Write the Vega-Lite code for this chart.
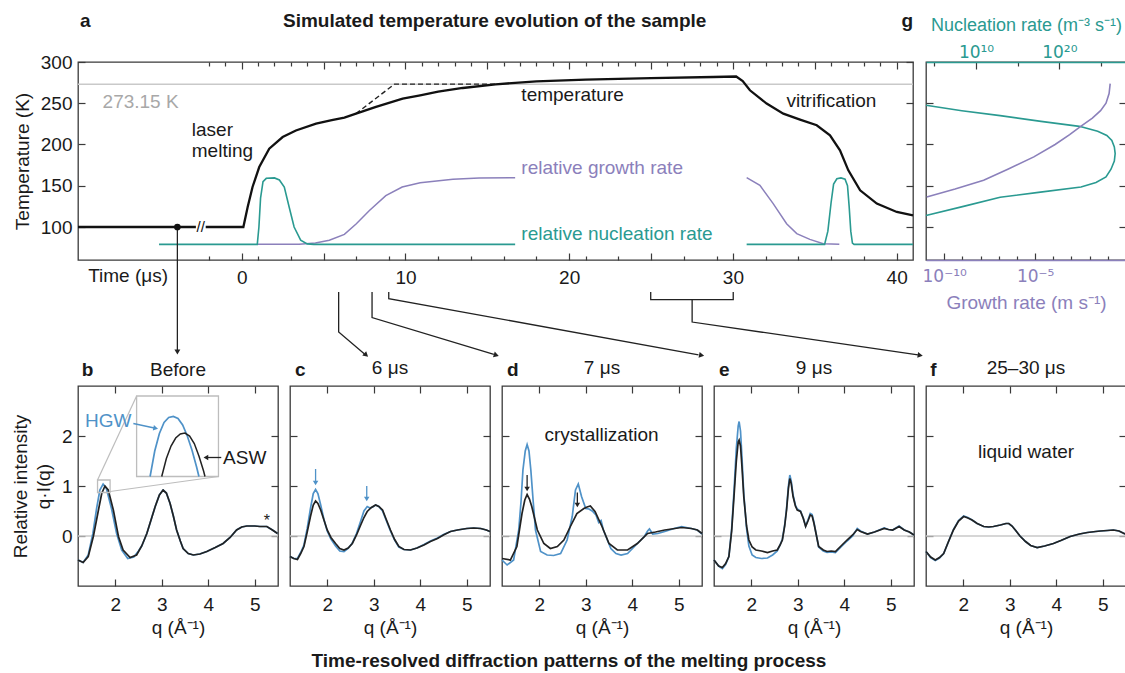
{
  "$schema": "https://vega.github.io/schema/vega-lite/v6.json",
  "padding": {"left": 10, "top": 11, "right": 0, "bottom": 0},
  "config": {
    "font": "Liberation Sans",
    "view": {"stroke": "#3a3a3a", "strokeWidth": 1.3},
    "axis": {"grid": false, "domain": false, "labelFontSize": 19, "titleFontSize": 19, "titleFontWeight": "normal", "labelColor": "#1a1a1a", "titleColor": "#1a1a1a", "tickColor": "#3a3a3a", "tickWidth": 1.2, "labelFont": "Liberation Sans", "titleFont": "Liberation Sans", "labelFlush": false, "labelOverlap": false, "labelBound": false, "titleLineHeight": 23},
    "text": {"fontSize": 19, "font": "Liberation Sans", "color": "#1a1a1a"}
  },
  "datasets": {
    "temp": [
      {"seg": "pre", "t": -10, "K": 100}, {"seg": "pre", "t": -2.8, "K": 100},
      {"seg": "main", "t": -2.2, "K": 100}, {"seg": "main", "t": 0.1, "K": 100}, {"seg": "main", "t": 0.36, "K": 124}, {"seg": "main", "t": 0.66, "K": 148.5}, {"seg": "main", "t": 1.07, "K": 172.7}, {"seg": "main", "t": 1.68, "K": 195}, {"seg": "main", "t": 2.5, "K": 209}, {"seg": "main", "t": 3.31, "K": 217}, {"seg": "main", "t": 4.54, "K": 225.3}, {"seg": "main", "t": 5.5, "K": 229.5}, {"seg": "main", "t": 6.27, "K": 232.6}, {"seg": "main", "t": 6.98, "K": 237.4}, {"seg": "main", "t": 8.2, "K": 245.5}, {"seg": "main", "t": 9.83, "K": 255.6}, {"seg": "main", "t": 10.9, "K": 259.5}, {"seg": "main", "t": 12, "K": 264}, {"seg": "main", "t": 13.5, "K": 268.5}, {"seg": "main", "t": 15.5, "K": 273}, {"seg": "main", "t": 18, "K": 276.5}, {"seg": "main", "t": 21, "K": 278.6}, {"seg": "main", "t": 25, "K": 280.5}, {"seg": "main", "t": 28.8, "K": 281.8}, {"seg": "main", "t": 30.2, "K": 282.4}, {"seg": "main", "t": 30.6, "K": 277}, {"seg": "main", "t": 31.04, "K": 265.7}, {"seg": "main", "t": 32.06, "K": 249.6}, {"seg": "main", "t": 33.08, "K": 237.4}, {"seg": "main", "t": 34.1, "K": 230.2}, {"seg": "main", "t": 35.12, "K": 223.3}, {"seg": "main", "t": 35.93, "K": 211.2}, {"seg": "main", "t": 36.54, "K": 193}, {"seg": "main", "t": 37.05, "K": 168.7}, {"seg": "main", "t": 37.77, "K": 144.5}, {"seg": "main", "t": 38.79, "K": 128.4}, {"seg": "main", "t": 40.01, "K": 118.2}, {"seg": "main", "t": 41, "K": 114.2}
    ],
    "tdash": [{"t": 6.98, "K": 237.4}, {"t": 9.33, "K": 273.15}, {"t": 15.5, "K": 273.15}],
    "nuc": [
      {"seg": 1, "t": -5.05, "K": 79}, {"seg": 1, "t": 0.95, "K": 79}, {"seg": 1, "t": 1.05, "K": 100}, {"seg": 1, "t": 1.15, "K": 135}, {"seg": 1, "t": 1.3, "K": 155}, {"seg": 1, "t": 1.5, "K": 159}, {"seg": 1, "t": 2.0, "K": 159.5}, {"seg": 1, "t": 2.3, "K": 157}, {"seg": 1, "t": 2.6, "K": 148.5}, {"seg": 1, "t": 2.9, "K": 124}, {"seg": 1, "t": 3.2, "K": 100}, {"seg": 1, "t": 3.6, "K": 84}, {"seg": 1, "t": 4.0, "K": 79.5}, {"seg": 1, "t": 4.4, "K": 79}, {"seg": 1, "t": 16.7, "K": 79},
      {"seg": 2, "t": 30.84, "K": 79}, {"seg": 2, "t": 35.6, "K": 79}, {"seg": 2, "t": 35.8, "K": 95}, {"seg": 2, "t": 36.0, "K": 130}, {"seg": 2, "t": 36.15, "K": 152}, {"seg": 2, "t": 36.35, "K": 158.5}, {"seg": 2, "t": 36.6, "K": 159.5}, {"seg": 2, "t": 36.85, "K": 158}, {"seg": 2, "t": 37.0, "K": 150}, {"seg": 2, "t": 37.1, "K": 125}, {"seg": 2, "t": 37.2, "K": 95}, {"seg": 2, "t": 37.3, "K": 80.5}, {"seg": 2, "t": 37.4, "K": 79}, {"seg": 2, "t": 41, "K": 79}
    ],
    "grow": [
      {"seg": 1, "t": 0.95, "K": 79}, {"seg": 1, "t": 3.5, "K": 79}, {"seg": 1, "t": 4.5, "K": 80.5}, {"seg": 1, "t": 5.35, "K": 84}, {"seg": 1, "t": 6.27, "K": 91}, {"seg": 1, "t": 7.0, "K": 104}, {"seg": 1, "t": 7.8, "K": 120}, {"seg": 1, "t": 8.8, "K": 138}, {"seg": 1, "t": 9.8, "K": 148.5}, {"seg": 1, "t": 10.9, "K": 153.5}, {"seg": 1, "t": 12.9, "K": 158}, {"seg": 1, "t": 14.5, "K": 159.3}, {"seg": 1, "t": 16.7, "K": 159.8},
      {"seg": 2, "t": 30.84, "K": 159.8}, {"seg": 2, "t": 31.65, "K": 150.5}, {"seg": 2, "t": 32.46, "K": 128.4}, {"seg": 2, "t": 33.28, "K": 104}, {"seg": 2, "t": 33.9, "K": 92}, {"seg": 2, "t": 34.7, "K": 85}, {"seg": 2, "t": 35.52, "K": 79.8}, {"seg": 2, "t": 36.5, "K": 79}
    ],
    "arrows": [
      {"id": "a0", "t": -3.93, "K": 100}, {"id": "a0", "t": -3.93, "K": -50},
      {"id": "a1", "t": 5.92, "K": 21.2}, {"id": "a1", "t": 5.92, "K": -27.3}, {"id": "a1", "t": 7.5, "K": -54},
      {"id": "a2", "t": 7.96, "K": 21.2}, {"id": "a2", "t": 7.96, "K": -9.8}, {"id": "a2", "t": 15.4, "K": -54.5},
      {"id": "a3", "t": 8.98, "K": 21.2}, {"id": "a3", "t": 8.98, "K": 13.2}, {"id": "a3", "t": 27.9, "K": -55},
      {"id": "b1", "t": 24.98, "K": 21.2}, {"id": "b1", "t": 24.98, "K": 12}, {"id": "b1", "t": 30.02, "K": 12}, {"id": "b1", "t": 30.02, "K": 21.2},
      {"id": "b2", "t": 27.51, "K": 12}, {"id": "b2", "t": 27.51, "K": -15.2}, {"id": "b2", "t": 41.3, "K": -55}
    ],
    "gnuc": [
      {"K": 247.5, "J": 4.0}, {"K": 241, "J": 8.3}, {"K": 235, "J": 12.9}, {"K": 228, "J": 17.8}, {"K": 222, "J": 22.4}, {"K": 216, "J": 24.6}, {"K": 211, "J": 25.7}, {"K": 205, "J": 26.3}, {"K": 197, "J": 26.6}, {"K": 189, "J": 26.7}, {"K": 180, "J": 26.6}, {"K": 170, "J": 26.2}, {"K": 160.6, "J": 25.6}, {"K": 154, "J": 24.4}, {"K": 148.5, "J": 22.6}, {"K": 142, "J": 17.5}, {"K": 136, "J": 12.9}, {"K": 125, "J": 8.5}, {"K": 114, "J": 4.0}
    ],
    "ggrow": [
      {"K": 136.4, "U": -10.96}, {"K": 146, "U": -9.4}, {"K": 156.6, "U": -7.83}, {"K": 170, "U": -6.5}, {"K": 185, "U": -5.07}, {"K": 200, "U": -3.9}, {"K": 212, "U": -3.1}, {"K": 222, "U": -2.49}, {"K": 232, "U": -1.85}, {"K": 241, "U": -1.4}, {"K": 250, "U": -1.1}, {"K": 261.7, "U": -0.93}, {"K": 273.8, "U": -0.87}
    ],
    "pb": [
      {"s": "HGW", "q": 1.2, "I": -0.48}, {"s": "HGW", "q": 1.31, "I": -0.53}, {"s": "HGW", "q": 1.42, "I": -0.38}, {"s": "HGW", "q": 1.52, "I": 0.05}, {"s": "HGW", "q": 1.6, "I": 0.55}, {"s": "HGW", "q": 1.67, "I": 0.92}, {"s": "HGW", "q": 1.74, "I": 1.04}, {"s": "HGW", "q": 1.81, "I": 0.95}, {"s": "HGW", "q": 1.92, "I": 0.55}, {"s": "HGW", "q": 2.03, "I": 0.05}, {"s": "HGW", "q": 2.14, "I": -0.28}, {"s": "HGW", "q": 2.27, "I": -0.45}, {"s": "HGW", "q": 2.4, "I": -0.42}, {"s": "HGW", "q": 2.5, "I": -0.3}, {"s": "HGW", "q": 2.57, "I": -0.2}, {"s": "HGW", "q": 2.68, "I": 0.05}, {"s": "HGW", "q": 2.78, "I": 0.35}, {"s": "HGW", "q": 2.86, "I": 0.59}, {"s": "HGW", "q": 2.95, "I": 0.82}, {"s": "HGW", "q": 3.03, "I": 0.92}, {"s": "HGW", "q": 3.1, "I": 0.86}, {"s": "HGW", "q": 3.18, "I": 0.65}, {"s": "HGW", "q": 3.25, "I": 0.4}, {"s": "HGW", "q": 3.32, "I": 0.12}, {"s": "HGW", "q": 3.4, "I": -0.1}, {"s": "HGW", "q": 3.46, "I": -0.25}, {"s": "HGW", "q": 3.57, "I": -0.35}, {"s": "HGW", "q": 3.68, "I": -0.38}, {"s": "HGW", "q": 3.82, "I": -0.36}, {"s": "HGW", "q": 3.97, "I": -0.31}, {"s": "HGW", "q": 4.15, "I": -0.23}, {"s": "HGW", "q": 4.32, "I": -0.15}, {"s": "HGW", "q": 4.47, "I": -0.03}, {"s": "HGW", "q": 4.61, "I": 0.12}, {"s": "HGW", "q": 4.72, "I": 0.18}, {"s": "HGW", "q": 4.83, "I": 0.2}, {"s": "HGW", "q": 5.0, "I": 0.2}, {"s": "HGW", "q": 5.11, "I": 0.19}, {"s": "HGW", "q": 5.26, "I": 0.19}, {"s": "HGW", "q": 5.38, "I": 0.12}, {"s": "HGW", "q": 5.49, "I": 0.05},
      {"s": "ASW", "q": 1.2, "I": -0.48}, {"s": "ASW", "q": 1.31, "I": -0.53}, {"s": "ASW", "q": 1.42, "I": -0.41}, {"s": "ASW", "q": 1.53, "I": -0.01}, {"s": "ASW", "q": 1.64, "I": 0.52}, {"s": "ASW", "q": 1.71, "I": 0.85}, {"s": "ASW", "q": 1.78, "I": 1.0}, {"s": "ASW", "q": 1.85, "I": 0.92}, {"s": "ASW", "q": 1.96, "I": 0.52}, {"s": "ASW", "q": 2.07, "I": -0.01}, {"s": "ASW", "q": 2.17, "I": -0.28}, {"s": "ASW", "q": 2.32, "I": -0.43}, {"s": "ASW", "q": 2.46, "I": -0.38}, {"s": "ASW", "q": 2.57, "I": -0.2}, {"s": "ASW", "q": 2.68, "I": 0.05}, {"s": "ASW", "q": 2.78, "I": 0.35}, {"s": "ASW", "q": 2.86, "I": 0.59}, {"s": "ASW", "q": 2.95, "I": 0.82}, {"s": "ASW", "q": 3.03, "I": 0.92}, {"s": "ASW", "q": 3.1, "I": 0.86}, {"s": "ASW", "q": 3.18, "I": 0.65}, {"s": "ASW", "q": 3.25, "I": 0.4}, {"s": "ASW", "q": 3.32, "I": 0.12}, {"s": "ASW", "q": 3.4, "I": -0.1}, {"s": "ASW", "q": 3.46, "I": -0.25}, {"s": "ASW", "q": 3.57, "I": -0.35}, {"s": "ASW", "q": 3.68, "I": -0.38}, {"s": "ASW", "q": 3.82, "I": -0.36}, {"s": "ASW", "q": 3.97, "I": -0.31}, {"s": "ASW", "q": 4.15, "I": -0.23}, {"s": "ASW", "q": 4.32, "I": -0.15}, {"s": "ASW", "q": 4.47, "I": -0.03}, {"s": "ASW", "q": 4.61, "I": 0.12}, {"s": "ASW", "q": 4.72, "I": 0.18}, {"s": "ASW", "q": 4.83, "I": 0.2}, {"s": "ASW", "q": 5.0, "I": 0.2}, {"s": "ASW", "q": 5.11, "I": 0.19}, {"s": "ASW", "q": 5.26, "I": 0.19}, {"s": "ASW", "q": 5.38, "I": 0.12}, {"s": "ASW", "q": 5.49, "I": 0.05}
    ],
    "inset": [
      {"s": "HGW", "q": 2.75, "I": 1.19}, {"s": "HGW", "q": 2.85, "I": 1.7}, {"s": "HGW", "q": 2.95, "I": 2.05}, {"s": "HGW", "q": 3.05, "I": 2.27}, {"s": "HGW", "q": 3.15, "I": 2.37}, {"s": "HGW", "q": 3.25, "I": 2.39}, {"s": "HGW", "q": 3.35, "I": 2.35}, {"s": "HGW", "q": 3.45, "I": 2.22}, {"s": "HGW", "q": 3.55, "I": 2.0}, {"s": "HGW", "q": 3.65, "I": 1.72}, {"s": "HGW", "q": 3.75, "I": 1.38}, {"s": "HGW", "q": 3.8, "I": 1.19},
      {"s": "ASW", "q": 3.0, "I": 1.19}, {"s": "ASW", "q": 3.1, "I": 1.55}, {"s": "ASW", "q": 3.2, "I": 1.8}, {"s": "ASW", "q": 3.3, "I": 1.96}, {"s": "ASW", "q": 3.4, "I": 2.04}, {"s": "ASW", "q": 3.5, "I": 2.06}, {"s": "ASW", "q": 3.6, "I": 2.0}, {"s": "ASW", "q": 3.7, "I": 1.85}, {"s": "ASW", "q": 3.8, "I": 1.6}, {"s": "ASW", "q": 3.9, "I": 1.3}, {"s": "ASW", "q": 3.93, "I": 1.19}
    ],
    "pc": [
      {"s": "HGW", "q": 1.2, "I": -0.41}, {"s": "HGW", "q": 1.28, "I": -0.45}, {"s": "HGW", "q": 1.36, "I": -0.45}, {"s": "HGW", "q": 1.43, "I": -0.33}, {"s": "HGW", "q": 1.5, "I": -0.18}, {"s": "HGW", "q": 1.57, "I": 0.15}, {"s": "HGW", "q": 1.64, "I": 0.55}, {"s": "HGW", "q": 1.7, "I": 0.85}, {"s": "HGW", "q": 1.75, "I": 0.93}, {"s": "HGW", "q": 1.8, "I": 0.85}, {"s": "HGW", "q": 1.86, "I": 0.62}, {"s": "HGW", "q": 1.93, "I": 0.33}, {"s": "HGW", "q": 2.0, "I": 0.1}, {"s": "HGW", "q": 2.08, "I": -0.06}, {"s": "HGW", "q": 2.18, "I": -0.2}, {"s": "HGW", "q": 2.27, "I": -0.3}, {"s": "HGW", "q": 2.36, "I": -0.31}, {"s": "HGW", "q": 2.45, "I": -0.25}, {"s": "HGW", "q": 2.54, "I": -0.14}, {"s": "HGW", "q": 2.63, "I": 0.05}, {"s": "HGW", "q": 2.72, "I": 0.3}, {"s": "HGW", "q": 2.79, "I": 0.5}, {"s": "HGW", "q": 2.86, "I": 0.59}, {"s": "HGW", "q": 2.92, "I": 0.56}, {"s": "HGW", "q": 2.98, "I": 0.58}, {"s": "HGW", "q": 3.04, "I": 0.62}, {"s": "HGW", "q": 3.11, "I": 0.59}, {"s": "HGW", "q": 3.19, "I": 0.5}, {"s": "HGW", "q": 3.27, "I": 0.31}, {"s": "HGW", "q": 3.36, "I": 0.1}, {"s": "HGW", "q": 3.45, "I": -0.08}, {"s": "HGW", "q": 3.54, "I": -0.22}, {"s": "HGW", "q": 3.65, "I": -0.27}, {"s": "HGW", "q": 3.79, "I": -0.28}, {"s": "HGW", "q": 3.93, "I": -0.24}, {"s": "HGW", "q": 4.08, "I": -0.17}, {"s": "HGW", "q": 4.22, "I": -0.1}, {"s": "HGW", "q": 4.37, "I": -0.04}, {"s": "HGW", "q": 4.5, "I": 0.03}, {"s": "HGW", "q": 4.65, "I": 0.09}, {"s": "HGW", "q": 4.8, "I": 0.12}, {"s": "HGW", "q": 5.0, "I": 0.15}, {"s": "HGW", "q": 5.15, "I": 0.16}, {"s": "HGW", "q": 5.3, "I": 0.15}, {"s": "HGW", "q": 5.42, "I": 0.12}, {"s": "HGW", "q": 5.5, "I": 0.09},
      {"s": "ASW", "q": 1.2, "I": -0.41}, {"s": "ASW", "q": 1.28, "I": -0.45}, {"s": "ASW", "q": 1.36, "I": -0.47}, {"s": "ASW", "q": 1.43, "I": -0.35}, {"s": "ASW", "q": 1.5, "I": -0.21}, {"s": "ASW", "q": 1.57, "I": 0.08}, {"s": "ASW", "q": 1.64, "I": 0.39}, {"s": "ASW", "q": 1.7, "I": 0.62}, {"s": "ASW", "q": 1.75, "I": 0.7}, {"s": "ASW", "q": 1.8, "I": 0.65}, {"s": "ASW", "q": 1.86, "I": 0.52}, {"s": "ASW", "q": 1.93, "I": 0.32}, {"s": "ASW", "q": 2.0, "I": 0.12}, {"s": "ASW", "q": 2.08, "I": -0.03}, {"s": "ASW", "q": 2.18, "I": -0.15}, {"s": "ASW", "q": 2.27, "I": -0.25}, {"s": "ASW", "q": 2.36, "I": -0.28}, {"s": "ASW", "q": 2.45, "I": -0.24}, {"s": "ASW", "q": 2.54, "I": -0.15}, {"s": "ASW", "q": 2.63, "I": 0.02}, {"s": "ASW", "q": 2.72, "I": 0.22}, {"s": "ASW", "q": 2.79, "I": 0.37}, {"s": "ASW", "q": 2.86, "I": 0.49}, {"s": "ASW", "q": 2.95, "I": 0.57}, {"s": "ASW", "q": 3.04, "I": 0.62}, {"s": "ASW", "q": 3.11, "I": 0.59}, {"s": "ASW", "q": 3.19, "I": 0.52}, {"s": "ASW", "q": 3.27, "I": 0.33}, {"s": "ASW", "q": 3.36, "I": 0.12}, {"s": "ASW", "q": 3.45, "I": -0.07}, {"s": "ASW", "q": 3.54, "I": -0.21}, {"s": "ASW", "q": 3.65, "I": -0.27}, {"s": "ASW", "q": 3.79, "I": -0.28}, {"s": "ASW", "q": 3.93, "I": -0.24}, {"s": "ASW", "q": 4.08, "I": -0.18}, {"s": "ASW", "q": 4.22, "I": -0.11}, {"s": "ASW", "q": 4.37, "I": -0.05}, {"s": "ASW", "q": 4.5, "I": 0.02}, {"s": "ASW", "q": 4.65, "I": 0.09}, {"s": "ASW", "q": 4.8, "I": 0.12}, {"s": "ASW", "q": 5.0, "I": 0.15}, {"s": "ASW", "q": 5.15, "I": 0.16}, {"s": "ASW", "q": 5.3, "I": 0.15}, {"s": "ASW", "q": 5.42, "I": 0.12}, {"s": "ASW", "q": 5.5, "I": 0.09}
    ],
    "pd": [
      {"s": "HGW", "q": 1.2, "I": -0.48}, {"s": "HGW", "q": 1.31, "I": -0.58}, {"s": "HGW", "q": 1.45, "I": -0.48}, {"s": "HGW", "q": 1.56, "I": 0.12}, {"s": "HGW", "q": 1.61, "I": 0.7}, {"s": "HGW", "q": 1.65, "I": 1.32}, {"s": "HGW", "q": 1.7, "I": 1.7}, {"s": "HGW", "q": 1.74, "I": 1.83}, {"s": "HGW", "q": 1.78, "I": 1.7}, {"s": "HGW", "q": 1.82, "I": 1.32}, {"s": "HGW", "q": 1.87, "I": 0.7}, {"s": "HGW", "q": 1.92, "I": 0.12}, {"s": "HGW", "q": 2.03, "I": -0.31}, {"s": "HGW", "q": 2.17, "I": -0.38}, {"s": "HGW", "q": 2.31, "I": -0.39}, {"s": "HGW", "q": 2.46, "I": -0.35}, {"s": "HGW", "q": 2.6, "I": -0.08}, {"s": "HGW", "q": 2.71, "I": 0.39}, {"s": "HGW", "q": 2.78, "I": 0.92}, {"s": "HGW", "q": 2.84, "I": 1.04}, {"s": "HGW", "q": 2.91, "I": 0.79}, {"s": "HGW", "q": 3.0, "I": 0.55}, {"s": "HGW", "q": 3.07, "I": 0.54}, {"s": "HGW", "q": 3.14, "I": 0.5}, {"s": "HGW", "q": 3.22, "I": 0.42}, {"s": "HGW", "q": 3.28, "I": 0.27}, {"s": "HGW", "q": 3.33, "I": 0.31}, {"s": "HGW", "q": 3.38, "I": 0.12}, {"s": "HGW", "q": 3.54, "I": -0.25}, {"s": "HGW", "q": 3.65, "I": -0.35}, {"s": "HGW", "q": 3.76, "I": -0.38}, {"s": "HGW", "q": 3.9, "I": -0.35}, {"s": "HGW", "q": 4.11, "I": -0.15}, {"s": "HGW", "q": 4.26, "I": -0.01}, {"s": "HGW", "q": 4.33, "I": 0.1}, {"s": "HGW", "q": 4.37, "I": 0.14}, {"s": "HGW", "q": 4.44, "I": 0.04}, {"s": "HGW", "q": 4.55, "I": 0.05}, {"s": "HGW", "q": 4.7, "I": 0.09}, {"s": "HGW", "q": 4.9, "I": 0.15}, {"s": "HGW", "q": 5.06, "I": 0.19}, {"s": "HGW", "q": 5.27, "I": 0.15}, {"s": "HGW", "q": 5.4, "I": 0.12}, {"s": "HGW", "q": 5.5, "I": 0.04},
      {"s": "ASW", "q": 1.2, "I": -0.45}, {"s": "ASW", "q": 1.38, "I": -0.48}, {"s": "ASW", "q": 1.52, "I": -0.21}, {"s": "ASW", "q": 1.63, "I": 0.45}, {"s": "ASW", "q": 1.69, "I": 0.72}, {"s": "ASW", "q": 1.74, "I": 0.83}, {"s": "ASW", "q": 1.79, "I": 0.74}, {"s": "ASW", "q": 1.84, "I": 0.59}, {"s": "ASW", "q": 1.96, "I": 0.12}, {"s": "ASW", "q": 2.1, "I": -0.15}, {"s": "ASW", "q": 2.24, "I": -0.25}, {"s": "ASW", "q": 2.39, "I": -0.21}, {"s": "ASW", "q": 2.53, "I": -0.08}, {"s": "ASW", "q": 2.67, "I": 0.19}, {"s": "ASW", "q": 2.81, "I": 0.45}, {"s": "ASW", "q": 2.96, "I": 0.55}, {"s": "ASW", "q": 3.03, "I": 0.58}, {"s": "ASW", "q": 3.1, "I": 0.6}, {"s": "ASW", "q": 3.2, "I": 0.49}, {"s": "ASW", "q": 3.35, "I": 0.19}, {"s": "ASW", "q": 3.5, "I": -0.15}, {"s": "ASW", "q": 3.68, "I": -0.28}, {"s": "ASW", "q": 3.9, "I": -0.28}, {"s": "ASW", "q": 4.11, "I": -0.15}, {"s": "ASW", "q": 4.33, "I": 0.05}, {"s": "ASW", "q": 4.5, "I": 0.08}, {"s": "ASW", "q": 4.7, "I": 0.12}, {"s": "ASW", "q": 5.06, "I": 0.17}, {"s": "ASW", "q": 5.27, "I": 0.15}, {"s": "ASW", "q": 5.4, "I": 0.12}, {"s": "ASW", "q": 5.5, "I": 0.05}
    ],
    "pe": [
      {"s": "HGW", "q": 1.2, "I": -0.48}, {"s": "HGW", "q": 1.3, "I": -0.6}, {"s": "HGW", "q": 1.38, "I": -0.65}, {"s": "HGW", "q": 1.45, "I": -0.57}, {"s": "HGW", "q": 1.52, "I": -0.41}, {"s": "HGW", "q": 1.58, "I": 0.15}, {"s": "HGW", "q": 1.63, "I": 0.9}, {"s": "HGW", "q": 1.68, "I": 1.75}, {"s": "HGW", "q": 1.72, "I": 2.2}, {"s": "HGW", "q": 1.74, "I": 2.29}, {"s": "HGW", "q": 1.77, "I": 2.1}, {"s": "HGW", "q": 1.8, "I": 1.6}, {"s": "HGW", "q": 1.84, "I": 0.85}, {"s": "HGW", "q": 1.9, "I": 0.15}, {"s": "HGW", "q": 1.95, "I": -0.2}, {"s": "HGW", "q": 2.02, "I": -0.38}, {"s": "HGW", "q": 2.1, "I": -0.43}, {"s": "HGW", "q": 2.22, "I": -0.45}, {"s": "HGW", "q": 2.35, "I": -0.44}, {"s": "HGW", "q": 2.46, "I": -0.38}, {"s": "HGW", "q": 2.56, "I": -0.3}, {"s": "HGW", "q": 2.62, "I": -0.18}, {"s": "HGW", "q": 2.67, "I": -0.06}, {"s": "HGW", "q": 2.72, "I": 0.22}, {"s": "HGW", "q": 2.76, "I": 0.55}, {"s": "HGW", "q": 2.8, "I": 1.0}, {"s": "HGW", "q": 2.83, "I": 1.22}, {"s": "HGW", "q": 2.86, "I": 1.1}, {"s": "HGW", "q": 2.9, "I": 0.82}, {"s": "HGW", "q": 2.95, "I": 0.62}, {"s": "HGW", "q": 2.99, "I": 0.54}, {"s": "HGW", "q": 3.06, "I": 0.5}, {"s": "HGW", "q": 3.12, "I": 0.36}, {"s": "HGW", "q": 3.17, "I": 0.2}, {"s": "HGW", "q": 3.22, "I": 0.32}, {"s": "HGW", "q": 3.27, "I": 0.45}, {"s": "HGW", "q": 3.31, "I": 0.43}, {"s": "HGW", "q": 3.35, "I": 0.27}, {"s": "HGW", "q": 3.4, "I": 0.02}, {"s": "HGW", "q": 3.45, "I": -0.22}, {"s": "HGW", "q": 3.55, "I": -0.3}, {"s": "HGW", "q": 3.63, "I": -0.33}, {"s": "HGW", "q": 3.72, "I": -0.32}, {"s": "HGW", "q": 3.81, "I": -0.33}, {"s": "HGW", "q": 3.93, "I": -0.22}, {"s": "HGW", "q": 4.06, "I": -0.1}, {"s": "HGW", "q": 4.18, "I": 0.0}, {"s": "HGW", "q": 4.28, "I": 0.15}, {"s": "HGW", "q": 4.35, "I": 0.1}, {"s": "HGW", "q": 4.5, "I": 0.04}, {"s": "HGW", "q": 4.65, "I": 0.08}, {"s": "HGW", "q": 4.86, "I": 0.16}, {"s": "HGW", "q": 4.95, "I": 0.13}, {"s": "HGW", "q": 5.04, "I": 0.12}, {"s": "HGW", "q": 5.18, "I": 0.2}, {"s": "HGW", "q": 5.29, "I": 0.12}, {"s": "HGW", "q": 5.4, "I": 0.08}, {"s": "HGW", "q": 5.5, "I": 0.02},
      {"s": "ASW", "q": 1.2, "I": -0.48}, {"s": "ASW", "q": 1.3, "I": -0.6}, {"s": "ASW", "q": 1.38, "I": -0.63}, {"s": "ASW", "q": 1.45, "I": -0.55}, {"s": "ASW", "q": 1.52, "I": -0.41}, {"s": "ASW", "q": 1.58, "I": 0.1}, {"s": "ASW", "q": 1.63, "I": 0.79}, {"s": "ASW", "q": 1.68, "I": 1.5}, {"s": "ASW", "q": 1.72, "I": 1.88}, {"s": "ASW", "q": 1.74, "I": 1.92}, {"s": "ASW", "q": 1.77, "I": 1.8}, {"s": "ASW", "q": 1.8, "I": 1.4}, {"s": "ASW", "q": 1.84, "I": 0.79}, {"s": "ASW", "q": 1.9, "I": 0.2}, {"s": "ASW", "q": 1.95, "I": -0.08}, {"s": "ASW", "q": 2.02, "I": -0.22}, {"s": "ASW", "q": 2.1, "I": -0.28}, {"s": "ASW", "q": 2.22, "I": -0.3}, {"s": "ASW", "q": 2.35, "I": -0.33}, {"s": "ASW", "q": 2.46, "I": -0.3}, {"s": "ASW", "q": 2.56, "I": -0.28}, {"s": "ASW", "q": 2.62, "I": -0.18}, {"s": "ASW", "q": 2.67, "I": -0.08}, {"s": "ASW", "q": 2.72, "I": 0.2}, {"s": "ASW", "q": 2.76, "I": 0.52}, {"s": "ASW", "q": 2.8, "I": 0.95}, {"s": "ASW", "q": 2.83, "I": 1.15}, {"s": "ASW", "q": 2.86, "I": 1.05}, {"s": "ASW", "q": 2.9, "I": 0.79}, {"s": "ASW", "q": 2.95, "I": 0.6}, {"s": "ASW", "q": 2.99, "I": 0.52}, {"s": "ASW", "q": 3.06, "I": 0.49}, {"s": "ASW", "q": 3.12, "I": 0.35}, {"s": "ASW", "q": 3.17, "I": 0.19}, {"s": "ASW", "q": 3.22, "I": 0.3}, {"s": "ASW", "q": 3.27, "I": 0.42}, {"s": "ASW", "q": 3.31, "I": 0.4}, {"s": "ASW", "q": 3.35, "I": 0.25}, {"s": "ASW", "q": 3.4, "I": 0.02}, {"s": "ASW", "q": 3.45, "I": -0.21}, {"s": "ASW", "q": 3.55, "I": -0.28}, {"s": "ASW", "q": 3.63, "I": -0.31}, {"s": "ASW", "q": 3.72, "I": -0.3}, {"s": "ASW", "q": 3.81, "I": -0.31}, {"s": "ASW", "q": 3.93, "I": -0.2}, {"s": "ASW", "q": 4.06, "I": -0.08}, {"s": "ASW", "q": 4.18, "I": 0.02}, {"s": "ASW", "q": 4.28, "I": 0.13}, {"s": "ASW", "q": 4.35, "I": 0.09}, {"s": "ASW", "q": 4.5, "I": 0.04}, {"s": "ASW", "q": 4.65, "I": 0.08}, {"s": "ASW", "q": 4.86, "I": 0.15}, {"s": "ASW", "q": 4.95, "I": 0.13}, {"s": "ASW", "q": 5.04, "I": 0.12}, {"s": "ASW", "q": 5.18, "I": 0.19}, {"s": "ASW", "q": 5.29, "I": 0.12}, {"s": "ASW", "q": 5.4, "I": 0.08}, {"s": "ASW", "q": 5.5, "I": 0.02}
    ],
    "pf": [
      {"s": "HGW", "q": 1.2, "I": -0.31}, {"s": "HGW", "q": 1.3, "I": -0.43}, {"s": "HGW", "q": 1.4, "I": -0.49}, {"s": "HGW", "q": 1.49, "I": -0.44}, {"s": "HGW", "q": 1.58, "I": -0.35}, {"s": "HGW", "q": 1.68, "I": -0.12}, {"s": "HGW", "q": 1.79, "I": 0.13}, {"s": "HGW", "q": 1.9, "I": 0.31}, {"s": "HGW", "q": 2.01, "I": 0.4}, {"s": "HGW", "q": 2.1, "I": 0.37}, {"s": "HGW", "q": 2.19, "I": 0.32}, {"s": "HGW", "q": 2.3, "I": 0.25}, {"s": "HGW", "q": 2.44, "I": 0.19}, {"s": "HGW", "q": 2.55, "I": 0.18}, {"s": "HGW", "q": 2.65, "I": 0.19}, {"s": "HGW", "q": 2.8, "I": 0.22}, {"s": "HGW", "q": 2.92, "I": 0.25}, {"s": "HGW", "q": 2.98, "I": 0.25}, {"s": "HGW", "q": 3.05, "I": 0.2}, {"s": "HGW", "q": 3.12, "I": 0.12}, {"s": "HGW", "q": 3.22, "I": 0.0}, {"s": "HGW", "q": 3.34, "I": -0.11}, {"s": "HGW", "q": 3.45, "I": -0.19}, {"s": "HGW", "q": 3.59, "I": -0.23}, {"s": "HGW", "q": 3.75, "I": -0.2}, {"s": "HGW", "q": 3.94, "I": -0.15}, {"s": "HGW", "q": 4.1, "I": -0.09}, {"s": "HGW", "q": 4.3, "I": -0.01}, {"s": "HGW", "q": 4.5, "I": 0.04}, {"s": "HGW", "q": 4.67, "I": 0.07}, {"s": "HGW", "q": 4.85, "I": 0.09}, {"s": "HGW", "q": 4.95, "I": 0.1}, {"s": "HGW", "q": 5.1, "I": 0.11}, {"s": "HGW", "q": 5.23, "I": 0.12}, {"s": "HGW", "q": 5.35, "I": 0.1}, {"s": "HGW", "q": 5.48, "I": 0.04},
      {"s": "ASW", "q": 1.2, "I": -0.31}, {"s": "ASW", "q": 1.3, "I": -0.42}, {"s": "ASW", "q": 1.4, "I": -0.48}, {"s": "ASW", "q": 1.49, "I": -0.43}, {"s": "ASW", "q": 1.58, "I": -0.35}, {"s": "ASW", "q": 1.68, "I": -0.12}, {"s": "ASW", "q": 1.79, "I": 0.12}, {"s": "ASW", "q": 1.9, "I": 0.3}, {"s": "ASW", "q": 2.01, "I": 0.39}, {"s": "ASW", "q": 2.1, "I": 0.36}, {"s": "ASW", "q": 2.19, "I": 0.32}, {"s": "ASW", "q": 2.3, "I": 0.25}, {"s": "ASW", "q": 2.44, "I": 0.19}, {"s": "ASW", "q": 2.55, "I": 0.18}, {"s": "ASW", "q": 2.65, "I": 0.19}, {"s": "ASW", "q": 2.8, "I": 0.22}, {"s": "ASW", "q": 2.92, "I": 0.25}, {"s": "ASW", "q": 2.98, "I": 0.25}, {"s": "ASW", "q": 3.05, "I": 0.2}, {"s": "ASW", "q": 3.12, "I": 0.12}, {"s": "ASW", "q": 3.22, "I": 0.0}, {"s": "ASW", "q": 3.34, "I": -0.11}, {"s": "ASW", "q": 3.45, "I": -0.19}, {"s": "ASW", "q": 3.59, "I": -0.23}, {"s": "ASW", "q": 3.75, "I": -0.2}, {"s": "ASW", "q": 3.94, "I": -0.15}, {"s": "ASW", "q": 4.1, "I": -0.09}, {"s": "ASW", "q": 4.3, "I": -0.01}, {"s": "ASW", "q": 4.5, "I": 0.04}, {"s": "ASW", "q": 4.67, "I": 0.07}, {"s": "ASW", "q": 4.85, "I": 0.09}, {"s": "ASW", "q": 4.95, "I": 0.1}, {"s": "ASW", "q": 5.1, "I": 0.11}, {"s": "ASW", "q": 5.23, "I": 0.12}, {"s": "ASW", "q": 5.35, "I": 0.1}, {"s": "ASW", "q": 5.48, "I": 0.04}
    ]
  },
  "vconcat": [
    {
      "hconcat": [
        {
          "width": 835, "height": 198,
          "data": {"values": [{}]},
          "layer": [
            {"layer": [
              {"mark": {"type": "rule", "color": "#c9c9c9", "strokeWidth": 1.5},
               "encoding": {"y": {"datum": 273.15, "type": "quantitative", "scale": {"domain": [60, 300], "nice": false, "zero": false},
                 "axis": {"orient": "left", "values": [100, 150, 200, 250, 300], "tickSize": -7, "labelPadding": 13, "title": "Temperature (K)", "titlePadding": 8}}}},
              {"data": {"name": "grow"}, "mark": {"type": "line", "color": "#8b80bb", "strokeWidth": 1.5},
               "encoding": {
                 "x": {"field": "t", "type": "quantitative", "scale": {"domain": [-10, 41], "nice": false, "zero": false},
                   "axis": {"orient": "bottom", "values": [-2, -1, 1, 2, 3, 4, 5, 6, 7, 8, 9, 11, 12, 13, 14, 15, 16, 17, 18, 19, 21, 22, 23, 24, 25, 26, 27, 28, 29, 31, 32, 33, 34, 35, 36, 37, 38, 39],
                     "tickSize": {"condition": {"test": "datum.value % 5 === 0", "value": -7}, "value": -4},
                     "labels": false, "title": null}},
                 "y": {"field": "K", "type": "quantitative"},
                 "detail": {"field": "seg"}, "order": {"value": null}}},
              {"data": {"name": "nuc"}, "mark": {"type": "line", "color": "#2a9a91", "strokeWidth": 1.6},
               "encoding": {"x": {"field": "t", "type": "quantitative"}, "y": {"field": "K", "type": "quantitative"}, "detail": {"field": "seg"}, "order": {"value": null}}},
              {"data": {"name": "tdash"}, "mark": {"type": "line", "color": "#222", "strokeWidth": 1.4, "strokeDash": [5, 3]},
               "encoding": {"x": {"field": "t", "type": "quantitative"}, "y": {"field": "K", "type": "quantitative"}, "order": {"value": null}}},
              {"data": {"name": "temp"}, "mark": {"type": "line", "color": "#111", "strokeWidth": 2.3},
               "encoding": {"x": {"field": "t", "type": "quantitative"}, "y": {"field": "K", "type": "quantitative"}, "detail": {"field": "seg"}, "order": {"value": null}}},
              {"data": {"name": "arrows"}, "mark": {"type": "line", "color": "#222", "strokeWidth": 1.3},
               "encoding": {"x": {"field": "t", "type": "quantitative"}, "y": {"field": "K", "type": "quantitative"}, "detail": {"field": "id"}, "order": {"value": null}}},
              {"mark": {"type": "point", "shape": "circle", "filled": true, "size": 45, "color": "#111", "opacity": 1}, "encoding": {"x": {"datum": -3.93}, "y": {"datum": 100}}},
              {"mark": {"type": "point", "shape": "triangle-down", "filled": true, "size": 35, "color": "#222", "opacity": 1}, "encoding": {"x": {"datum": -3.93}, "y": {"datum": -51.5}}},
              {"mark": {"type": "point", "shape": "triangle-up", "angle": 131.6, "filled": true, "size": 35, "color": "#222", "opacity": 1}, "encoding": {"x": {"datum": 7.6}, "y": {"datum": -55.2}}},
              {"mark": {"type": "point", "shape": "triangle-up", "angle": 107.3, "filled": true, "size": 35, "color": "#222", "opacity": 1}, "encoding": {"x": {"datum": 15.55}, "y": {"datum": -55.3}}},
              {"mark": {"type": "point", "shape": "triangle-up", "angle": 100.5, "filled": true, "size": 35, "color": "#222", "opacity": 1}, "encoding": {"x": {"datum": 28.09}, "y": {"datum": -55.5}}},
              {"mark": {"type": "point", "shape": "triangle-up", "angle": 98.3, "filled": true, "size": 35, "color": "#222", "opacity": 1}, "encoding": {"x": {"datum": 41.44}, "y": {"datum": -55.5}}},
              {"mark": {"type": "text", "text": "//", "fontSize": 15, "align": "center", "baseline": "middle", "color": "#111"}, "encoding": {"x": {"datum": -2.5}, "y": {"datum": 100}}},
              {"mark": {"type": "text", "text": "273.15 K", "align": "left", "baseline": "middle", "color": "#a8a8a8"}, "encoding": {"x": {"datum": -8.5}, "y": {"datum": 251.5}}},
              {"mark": {"type": "text", "text": "laser", "align": "left", "baseline": "middle"}, "encoding": {"x": {"datum": -3.05}, "y": {"datum": 218}}},
              {"mark": {"type": "text", "text": "melting", "align": "left", "baseline": "middle"}, "encoding": {"x": {"datum": -3.05}, "y": {"datum": 191.8}}},
              {"mark": {"type": "text", "text": "temperature", "align": "left", "baseline": "middle"}, "encoding": {"x": {"datum": 17.08}, "y": {"datum": 260}}},
              {"mark": {"type": "text", "text": "vitrification", "align": "left", "baseline": "middle"}, "encoding": {"x": {"datum": 33.28}, "y": {"datum": 252.4}}},
              {"mark": {"type": "text", "text": "relative growth rate", "align": "left", "baseline": "middle", "color": "#8b80bb"}, "encoding": {"x": {"datum": 17.08}, "y": {"datum": 171.6}}},
              {"mark": {"type": "text", "text": "relative nucleation rate", "align": "left", "baseline": "middle", "color": "#2a9a91"}, "encoding": {"x": {"datum": 17.08}, "y": {"datum": 91.6}}},
              {"mark": {"type": "text", "text": "Time (μs)", "align": "center", "baseline": "middle"}, "encoding": {"x": {"datum": -6.94}, "y": {"datum": 40.2}}},
              {"mark": {"type": "text", "text": "a", "fontWeight": "bold", "align": "left", "baseline": "middle"}, "encoding": {"x": {"datum": -9.88}, "y": {"datum": 349.3}}},
              {"mark": {"type": "text", "text": "Simulated temperature evolution of the sample", "fontWeight": "bold", "align": "center", "baseline": "middle"}, "encoding": {"x": {"datum": 15.45}, "y": {"datum": 349.3}}}
            ]},
            {"mark": {"type": "point", "opacity": 0},
             "encoding": {
               "x": {"datum": 0, "type": "quantitative", "axis": {"orient": "top", "values": [-2, -1, 0, 1, 2, 3, 4, 5, 6, 7, 8, 9, 10, 11, 12, 13, 14, 15, 16, 17, 18, 19, 20, 21, 22, 23, 24, 25, 26, 27, 28, 29, 30, 31, 32, 33, 34, 35, 36, 37, 38, 39, 40], "tickSize": {"condition": {"test": "datum.value % 5 === 0", "value": -7}, "value": -4}, "labels": false, "title": null}},
               "y": {"datum": 100, "type": "quantitative", "axis": {"orient": "right", "values": [100, 150, 200, 250, 300], "tickSize": -7, "labels": false, "title": null}}}},
            {"mark": {"type": "point", "opacity": 0},
             "encoding": {
               "x": {"datum": 0, "type": "quantitative", "axis": {"orient": "bottom", "values": [0, 10, 20, 30, 40], "tickSize": -7, "labelPadding": 15, "labelOverlap": false, "title": null}},
               "y": {"datum": 100, "type": "quantitative", "axis": null}}}
          ],
          "resolve": {"axis": {"x": "independent", "y": "independent"}}
        },
        {
          "width": 200, "height": 198,
          "data": {"values": [{}]},
          "layer": [
            {"layer": [
              {"data": {"name": "gnuc"}, "mark": {"type": "line", "color": "#2a9a91", "strokeWidth": 1.6},
               "encoding": {
                 "x": {"field": "J", "type": "quantitative", "scale": {"domain": [4, 28], "nice": false, "zero": false},
                   "axis": {"orient": "top", "values": [5, 10, 15, 20, 25], "tickSize": {"condition": {"test": "datum.value % 10 === 0", "value": -7}, "value": -4},
                     "labelExpr": "datum.value === 10 ? '10¹⁰' : datum.value === 20 ? '10²⁰' : ''", "labelOverlap": false, "labelColor": "#2a9a91", "labelPadding": 8, "labelFont": "DejaVu Sans", "labelFontSize": 17,
                     "title": "Nucleation rate (m⁻³ s⁻¹)", "titleFontSize": 18, "titleColor": "#2a9a91", "titlePadding": 6, "domain": true, "domainColor": "#2a9a91", "domainWidth": 1.5}},
                 "y": {"field": "K", "type": "quantitative", "scale": {"domain": [60, 300], "nice": false, "zero": false},
                   "axis": {"orient": "left", "values": [100, 150, 200, 250], "tickSize": -7, "labels": false, "title": null}},
                 "order": {"value": null}}},
              {"mark": {"type": "text", "text": "g", "fontWeight": "bold", "align": "right", "baseline": "middle"}, "encoding": {"x": {"datum": 2.45}, "y": {"datum": 349.3}}}
            ]},
            {"layer": [
              {"data": {"name": "ggrow"}, "mark": {"type": "line", "color": "#8b80bb", "strokeWidth": 1.6},
               "encoding": {
                 "x": {"field": "U", "type": "quantitative", "scale": {"domain": [-11, 0], "nice": false, "zero": false},
                   "axis": {"orient": "bottom", "values": [-10, -9, -8, -7, -6, -5, -4, -3, -2, -1], "tickSize": {"condition": {"test": "datum.value % 5 === 0", "value": -7}, "value": -4},
                     "labelExpr": "datum.value === -10 ? '10⁻¹⁰' : datum.value === -5 ? '10⁻⁵' : ''", "labelOverlap": false, "labelColor": "#8b80bb", "labelPadding": 15, "labelFont": "DejaVu Sans", "labelFontSize": 17,
                     "title": "Growth rate (m s⁻¹)", "titleColor": "#8b80bb", "titlePadding": 6, "domain": true, "domainColor": "#8b80bb", "domainWidth": 1.5}},
                 "y": {"field": "K", "type": "quantitative", "axis": {"orient": "right", "values": [100, 150, 200, 250], "tickSize": -7, "labels": false, "title": null}},
                 "order": {"value": null}}}
            ]}
          ],
          "resolve": {"scale": {"x": "independent"}, "axis": {"x": "independent", "y": "independent"}}
        }
      ],
      "spacing": 13,
      "bounds": "flush"
    },
    {
      "hconcat": [
        {
          "width": 200, "height": 200,
          "data": {"values": [{}]},
          "layer": [
            {"layer": [
              {"mark": {"type": "rule", "color": "#c9c9c9", "strokeWidth": 1.3},
               "encoding": {"y": {"datum": 0, "type": "quantitative", "scale": {"domain": [-1, 3], "nice": false, "zero": false},
                 "axis": {"orient": "left", "values": [0, 1, 2], "tickSize": -7, "labelPadding": 13, "title": ["Relative intensity", "q·I(q)"], "titlePadding": 8}}}},
              {"data": {"name": "pb"}, "transform": [{"filter": "datum.s === 'HGW'"}], "mark": {"type": "line", "color": "#4f92c8", "strokeWidth": 1.7},
               "encoding": {"x": {"field": "q", "type": "quantitative", "scale": {"domain": [1.2, 5.5], "nice": false, "zero": false},
                 "axis": {"orient": "bottom", "values": [2, 3, 4, 5], "tickSize": -7, "labelPadding": 16, "title": "q (Å⁻¹)", "titlePadding": 4}},
                 "y": {"field": "I", "type": "quantitative"}}},
              {"data": {"name": "pb"}, "transform": [{"filter": "datum.s === 'ASW'"}], "mark": {"type": "line", "color": "#222", "strokeWidth": 1.7},
               "encoding": {"x": {"field": "q", "type": "quantitative"}, "y": {"field": "I", "type": "quantitative"}}},
              {"mark": {"type": "rect", "fill": "white", "stroke": "#bdbdbd", "strokeWidth": 1.3}, "encoding": {"x": {"datum": 2.46}, "x2": {"datum": 4.22}, "y": {"datum": 1.19}, "y2": {"datum": 2.8}}},
              {"mark": {"type": "rect", "fill": null, "fillOpacity": 0, "stroke": "#bdbdbd", "strokeWidth": 1.3}, "encoding": {"x": {"datum": 1.62}, "x2": {"datum": 1.89}, "y": {"datum": 0.87}, "y2": {"datum": 1.12}}},
              {"mark": {"type": "rule", "color": "#bdbdbd", "strokeWidth": 1.2}, "encoding": {"x": {"datum": 1.62}, "y": {"datum": 1.12}, "x2": {"datum": 2.46}, "y2": {"datum": 2.8}}},
              {"mark": {"type": "rule", "color": "#bdbdbd", "strokeWidth": 1.2}, "encoding": {"x": {"datum": 1.89}, "y": {"datum": 0.89}, "x2": {"datum": 4.22}, "y2": {"datum": 1.19}}},
              {"data": {"name": "inset"}, "transform": [{"filter": "datum.s === 'HGW'"}], "mark": {"type": "line", "color": "#4f92c8", "strokeWidth": 1.7},
               "encoding": {"x": {"field": "q", "type": "quantitative"}, "y": {"field": "I", "type": "quantitative"}}},
              {"data": {"name": "inset"}, "transform": [{"filter": "datum.s === 'ASW'"}], "mark": {"type": "line", "color": "#222", "strokeWidth": 1.5},
               "encoding": {"x": {"field": "q", "type": "quantitative"}, "y": {"field": "I", "type": "quantitative"}}},
              {"mark": {"type": "text", "text": "HGW", "align": "center", "baseline": "middle", "color": "#4f92c8"}, "encoding": {"x": {"datum": 1.85}, "y": {"datum": 2.31}}},
              {"mark": {"type": "rule", "color": "#4f92c8", "strokeWidth": 1.3}, "encoding": {"x": {"datum": 2.39}, "y": {"datum": 2.25}, "x2": {"datum": 2.84}, "y2": {"datum": 2.16}}},
              {"mark": {"type": "point", "shape": "triangle-up", "angle": 102, "filled": true, "size": 30, "color": "#4f92c8", "opacity": 1}, "encoding": {"x": {"datum": 2.87}, "y": {"datum": 2.155}}},
              {"mark": {"type": "text", "text": "ASW", "align": "left", "baseline": "middle"}, "encoding": {"x": {"datum": 4.32}, "y": {"datum": 1.57}}},
              {"mark": {"type": "rule", "color": "#222", "strokeWidth": 1.3}, "encoding": {"x": {"datum": 4.28}, "y": {"datum": 1.57}, "x2": {"datum": 3.97}, "y2": {"datum": 1.57}}},
              {"mark": {"type": "point", "shape": "triangle-up", "angle": 270, "filled": true, "size": 30, "color": "#222", "opacity": 1}, "encoding": {"x": {"datum": 3.95}, "y": {"datum": 1.57}}},
              {"mark": {"type": "text", "text": "*", "align": "center", "baseline": "top", "fontSize": 16}, "encoding": {"x": {"datum": 5.26}, "y": {"datum": 0.46}}},
              {"mark": {"type": "text", "text": "Before", "align": "center", "baseline": "middle"}, "encoding": {"x": {"datum": 3.35}, "y": {"datum": 3.33}}},
              {"mark": {"type": "text", "text": "b", "fontWeight": "bold", "align": "left", "baseline": "middle"}, "encoding": {"x": {"datum": 1.28}, "y": {"datum": 3.33}}}
            ]},
            {"mark": {"type": "point", "opacity": 0},
             "encoding": {
               "x": {"datum": 3, "type": "quantitative", "axis": {"orient": "top", "values": [2, 3, 4, 5], "tickSize": -7, "labels": false, "title": null}},
               "y": {"datum": 0, "type": "quantitative", "axis": {"orient": "right", "values": [0, 1, 2], "tickSize": -7, "labels": false, "title": null}}}}
          ],
          "resolve": {"axis": {"x": "independent", "y": "independent"}}
        },
        {
          "width": 200, "height": 200,
          "data": {"values": [{}]},
          "layer": [
            {"layer": [
              {"mark": {"type": "rule", "color": "#c9c9c9", "strokeWidth": 1.3},
               "encoding": {"y": {"datum": 0, "type": "quantitative", "scale": {"domain": [-1, 3], "nice": false, "zero": false},
                 "axis": {"orient": "left", "values": [0, 1, 2], "tickSize": -7, "labels": false, "title": null}}}},
              {"data": {"name": "pc"}, "transform": [{"filter": "datum.s === 'HGW'"}], "mark": {"type": "line", "color": "#4f92c8", "strokeWidth": 1.7},
               "encoding": {"x": {"field": "q", "type": "quantitative", "scale": {"domain": [1.2, 5.5], "nice": false, "zero": false},
                 "axis": {"orient": "bottom", "values": [2, 3, 4, 5], "tickSize": -7, "labelPadding": 16, "title": "q (Å⁻¹)", "titlePadding": 4}},
                 "y": {"field": "I", "type": "quantitative"}}},
              {"data": {"name": "pc"}, "transform": [{"filter": "datum.s === 'ASW'"}], "mark": {"type": "line", "color": "#222", "strokeWidth": 1.7},
               "encoding": {"x": {"field": "q", "type": "quantitative"}, "y": {"field": "I", "type": "quantitative"}}},
              {"mark": {"type": "rule", "color": "#4f92c8", "strokeWidth": 1.3}, "encoding": {"x": {"datum": 1.75}, "y": {"datum": 1.34}, "x2": {"datum": 1.75}, "y2": {"datum": 1.08}}},
              {"mark": {"type": "point", "shape": "triangle-down", "filled": true, "size": 30, "color": "#4f92c8", "opacity": 1}, "encoding": {"x": {"datum": 1.75}, "y": {"datum": 1.06}}},
              {"mark": {"type": "rule", "color": "#4f92c8", "strokeWidth": 1.3}, "encoding": {"x": {"datum": 2.85}, "y": {"datum": 1.0}, "x2": {"datum": 2.85}, "y2": {"datum": 0.76}}},
              {"mark": {"type": "point", "shape": "triangle-down", "filled": true, "size": 30, "color": "#4f92c8", "opacity": 1}, "encoding": {"x": {"datum": 2.85}, "y": {"datum": 0.74}}},
              {"mark": {"type": "text", "text": "6 μs", "align": "center", "baseline": "middle"}, "encoding": {"x": {"datum": 3.35}, "y": {"datum": 3.36}}},
              {"mark": {"type": "text", "text": "c", "fontWeight": "bold", "align": "left", "baseline": "middle"}, "encoding": {"x": {"datum": 1.31}, "y": {"datum": 3.33}}}
            ]},
            {"mark": {"type": "point", "opacity": 0},
             "encoding": {
               "x": {"datum": 3, "type": "quantitative", "axis": {"orient": "top", "values": [2, 3, 4, 5], "tickSize": -7, "labels": false, "title": null}},
               "y": {"datum": 0, "type": "quantitative", "axis": {"orient": "right", "values": [0, 1, 2], "tickSize": -7, "labels": false, "title": null}}}}
          ],
          "resolve": {"axis": {"x": "independent", "y": "independent"}}
        },
        {
          "width": 200, "height": 200,
          "data": {"values": [{}]},
          "layer": [
            {"layer": [
              {"mark": {"type": "rule", "color": "#c9c9c9", "strokeWidth": 1.3},
               "encoding": {"y": {"datum": 0, "type": "quantitative", "scale": {"domain": [-1, 3], "nice": false, "zero": false},
                 "axis": {"orient": "left", "values": [0, 1, 2], "tickSize": -7, "labels": false, "title": null}}}},
              {"data": {"name": "pd"}, "transform": [{"filter": "datum.s === 'HGW'"}], "mark": {"type": "line", "color": "#4f92c8", "strokeWidth": 1.7},
               "encoding": {"x": {"field": "q", "type": "quantitative", "scale": {"domain": [1.2, 5.5], "nice": false, "zero": false},
                 "axis": {"orient": "bottom", "values": [2, 3, 4, 5], "tickSize": -7, "labelPadding": 16, "title": "q (Å⁻¹)", "titlePadding": 4}},
                 "y": {"field": "I", "type": "quantitative"}}},
              {"data": {"name": "pd"}, "transform": [{"filter": "datum.s === 'ASW'"}], "mark": {"type": "line", "color": "#222", "strokeWidth": 1.7},
               "encoding": {"x": {"field": "q", "type": "quantitative"}, "y": {"field": "I", "type": "quantitative"}}},
              {"mark": {"type": "rule", "color": "#222", "strokeWidth": 1.3}, "encoding": {"x": {"datum": 1.74}, "y": {"datum": 1.22}, "x2": {"datum": 1.74}, "y2": {"datum": 0.96}}},
              {"mark": {"type": "point", "shape": "triangle-down", "filled": true, "size": 30, "color": "#222", "opacity": 1}, "encoding": {"x": {"datum": 1.74}, "y": {"datum": 0.94}}},
              {"mark": {"type": "rule", "color": "#222", "strokeWidth": 1.3}, "encoding": {"x": {"datum": 2.82}, "y": {"datum": 0.87}, "x2": {"datum": 2.82}, "y2": {"datum": 0.64}}},
              {"mark": {"type": "point", "shape": "triangle-down", "filled": true, "size": 30, "color": "#222", "opacity": 1}, "encoding": {"x": {"datum": 2.82}, "y": {"datum": 0.62}}},
              {"mark": {"type": "text", "text": "crystallization", "align": "center", "baseline": "middle"}, "encoding": {"x": {"datum": 3.34}, "y": {"datum": 2.03}}},
              {"mark": {"type": "text", "text": "7 μs", "align": "center", "baseline": "middle"}, "encoding": {"x": {"datum": 3.35}, "y": {"datum": 3.36}}},
              {"mark": {"type": "text", "text": "d", "fontWeight": "bold", "align": "left", "baseline": "middle"}, "encoding": {"x": {"datum": 1.31}, "y": {"datum": 3.33}}},
              {"mark": {"type": "text", "text": "Time-resolved diffraction patterns of the melting process", "fontWeight": "bold", "align": "center", "baseline": "middle"}, "encoding": {"x": {"datum": 2.64}, "y": {"datum": -2.5}}}
            ]},
            {"mark": {"type": "point", "opacity": 0},
             "encoding": {
               "x": {"datum": 3, "type": "quantitative", "axis": {"orient": "top", "values": [2, 3, 4, 5], "tickSize": -7, "labels": false, "title": null}},
               "y": {"datum": 0, "type": "quantitative", "axis": {"orient": "right", "values": [0, 1, 2], "tickSize": -7, "labels": false, "title": null}}}}
          ],
          "resolve": {"axis": {"x": "independent", "y": "independent"}}
        },
        {
          "width": 200, "height": 200,
          "data": {"values": [{}]},
          "layer": [
            {"layer": [
              {"mark": {"type": "rule", "color": "#c9c9c9", "strokeWidth": 1.3},
               "encoding": {"y": {"datum": 0, "type": "quantitative", "scale": {"domain": [-1, 3], "nice": false, "zero": false},
                 "axis": {"orient": "left", "values": [0, 1, 2], "tickSize": -7, "labels": false, "title": null}}}},
              {"data": {"name": "pe"}, "transform": [{"filter": "datum.s === 'HGW'"}], "mark": {"type": "line", "color": "#4f92c8", "strokeWidth": 1.7},
               "encoding": {"x": {"field": "q", "type": "quantitative", "scale": {"domain": [1.2, 5.5], "nice": false, "zero": false},
                 "axis": {"orient": "bottom", "values": [2, 3, 4, 5], "tickSize": -7, "labelPadding": 16, "title": "q (Å⁻¹)", "titlePadding": 4}},
                 "y": {"field": "I", "type": "quantitative"}}},
              {"data": {"name": "pe"}, "transform": [{"filter": "datum.s === 'ASW'"}], "mark": {"type": "line", "color": "#222", "strokeWidth": 1.7},
               "encoding": {"x": {"field": "q", "type": "quantitative"}, "y": {"field": "I", "type": "quantitative"}}},
              {"mark": {"type": "text", "text": "9 μs", "align": "center", "baseline": "middle"}, "encoding": {"x": {"datum": 3.35}, "y": {"datum": 3.36}}},
              {"mark": {"type": "text", "text": "e", "fontWeight": "bold", "align": "left", "baseline": "middle"}, "encoding": {"x": {"datum": 1.31}, "y": {"datum": 3.33}}}
            ]},
            {"mark": {"type": "point", "opacity": 0},
             "encoding": {
               "x": {"datum": 3, "type": "quantitative", "axis": {"orient": "top", "values": [2, 3, 4, 5], "tickSize": -7, "labels": false, "title": null}},
               "y": {"datum": 0, "type": "quantitative", "axis": {"orient": "right", "values": [0, 1, 2], "tickSize": -7, "labels": false, "title": null}}}}
          ],
          "resolve": {"axis": {"x": "independent", "y": "independent"}}
        },
        {
          "width": 200, "height": 200,
          "data": {"values": [{}]},
          "layer": [
            {"layer": [
              {"mark": {"type": "rule", "color": "#c9c9c9", "strokeWidth": 1.3},
               "encoding": {"y": {"datum": 0, "type": "quantitative", "scale": {"domain": [-1, 3], "nice": false, "zero": false},
                 "axis": {"orient": "left", "values": [0, 1, 2], "tickSize": -7, "labels": false, "title": null}}}},
              {"data": {"name": "pf"}, "transform": [{"filter": "datum.s === 'HGW'"}], "mark": {"type": "line", "color": "#4f92c8", "strokeWidth": 1.7},
               "encoding": {"x": {"field": "q", "type": "quantitative", "scale": {"domain": [1.2, 5.5], "nice": false, "zero": false},
                 "axis": {"orient": "bottom", "values": [2, 3, 4, 5], "tickSize": -7, "labelPadding": 16, "title": "q (Å⁻¹)", "titlePadding": 4}},
                 "y": {"field": "I", "type": "quantitative"}}},
              {"data": {"name": "pf"}, "transform": [{"filter": "datum.s === 'ASW'"}], "mark": {"type": "line", "color": "#222", "strokeWidth": 1.7},
               "encoding": {"x": {"field": "q", "type": "quantitative"}, "y": {"field": "I", "type": "quantitative"}}},
              {"mark": {"type": "text", "text": "liquid water", "align": "center", "baseline": "middle"}, "encoding": {"x": {"datum": 3.35}, "y": {"datum": 1.69}}},
              {"mark": {"type": "text", "text": "25–30 μs", "align": "center", "baseline": "middle"}, "encoding": {"x": {"datum": 3.35}, "y": {"datum": 3.36}}},
              {"mark": {"type": "text", "text": "f", "fontWeight": "bold", "align": "left", "baseline": "middle"}, "encoding": {"x": {"datum": 1.29}, "y": {"datum": 3.33}}}
            ]},
            {"mark": {"type": "point", "opacity": 0},
             "encoding": {
               "x": {"datum": 3, "type": "quantitative", "axis": {"orient": "top", "values": [2, 3, 4, 5], "tickSize": -7, "labels": false, "title": null}},
               "y": {"datum": 0, "type": "quantitative", "axis": {"orient": "right", "values": [0, 1, 2], "tickSize": -7, "labels": false, "title": null}}}}
          ],
          "resolve": {"axis": {"x": "independent", "y": "independent"}}
        }
      ],
      "spacing": 12,
      "bounds": "flush"
    }
  ],
  "spacing": 324,
  "bounds": "flush"
}
